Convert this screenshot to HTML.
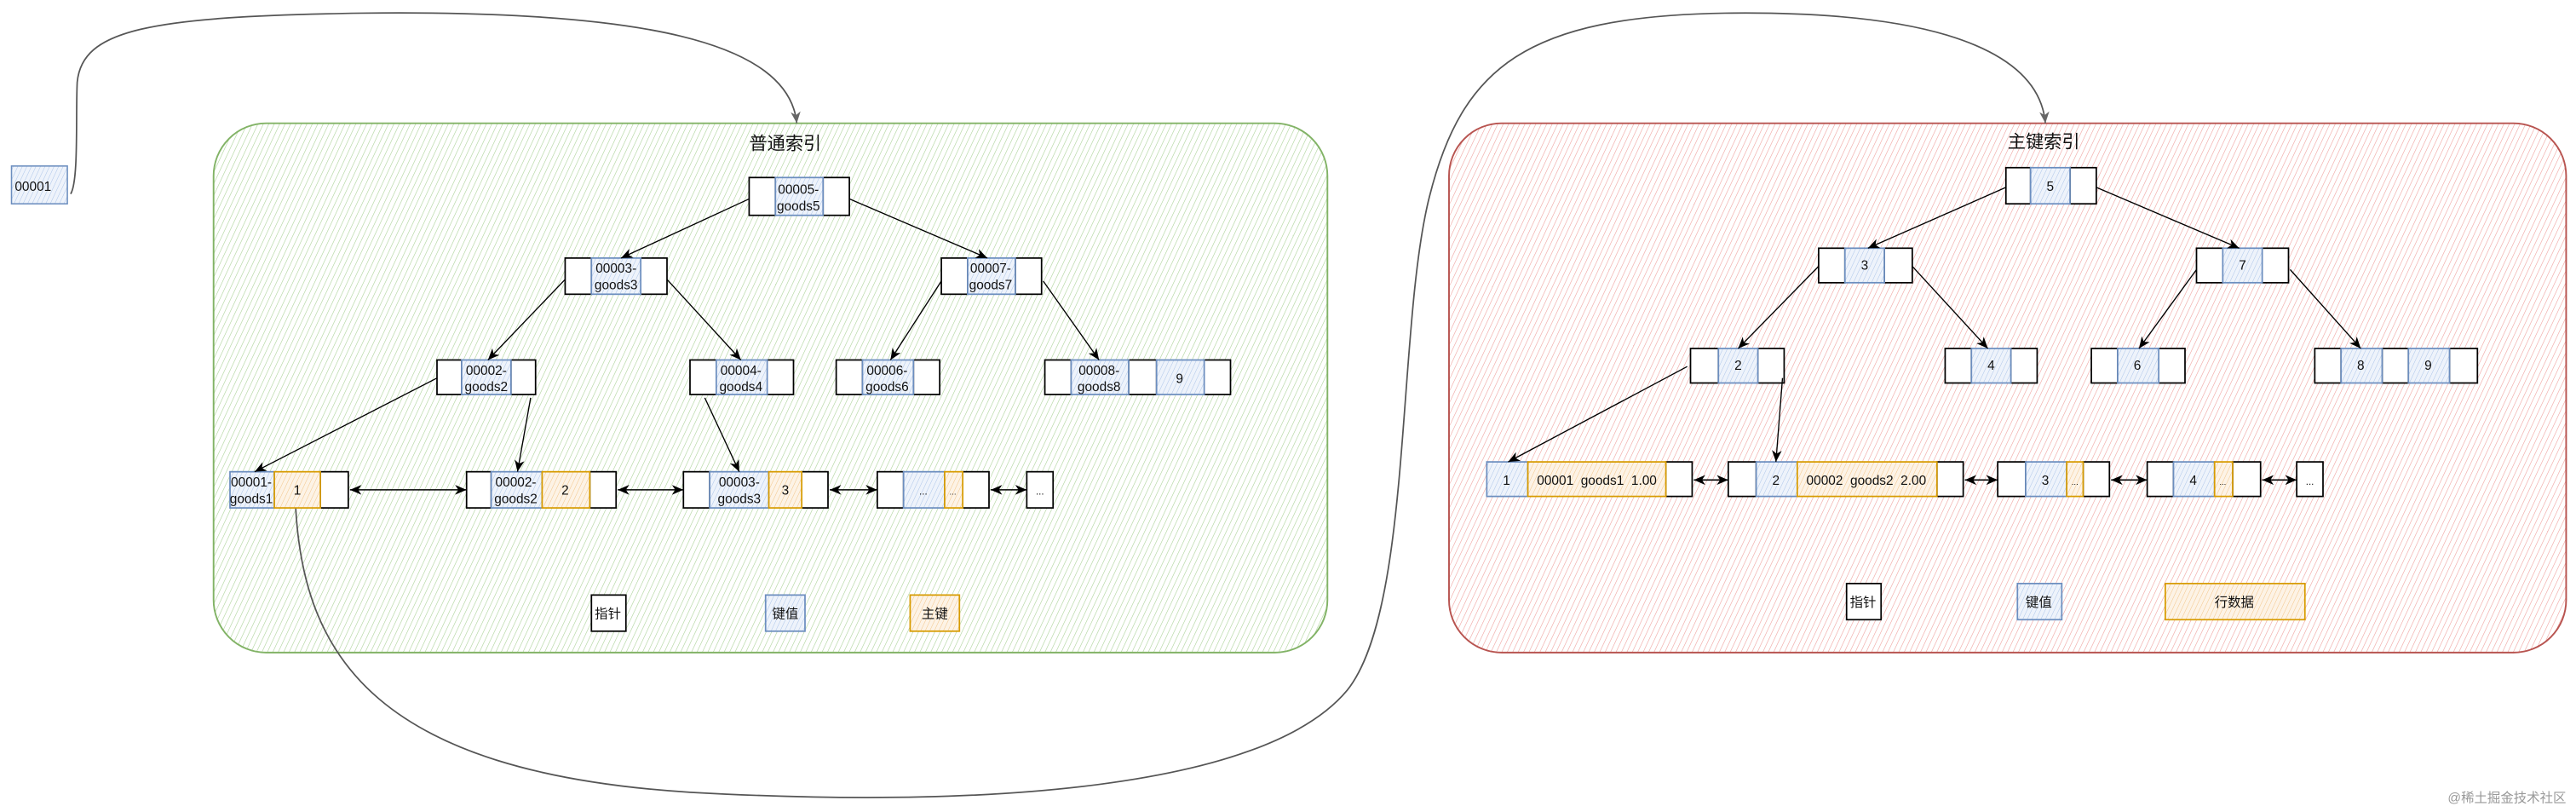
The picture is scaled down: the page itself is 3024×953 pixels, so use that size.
<!DOCTYPE html>
<html><head><meta charset="utf-8"><style>
html,body{margin:0;padding:0;background:#fff;}
svg{display:block;}
text{font-family:"Liberation Sans","Noto Sans CJK SC",sans-serif;fill:#111;}
</style></head><body>
<svg width="3024" height="953" viewBox="0 0 1568 494" preserveAspectRatio="none" xmlns="http://www.w3.org/2000/svg">
<defs>
<pattern id="pg" width="3" height="3" patternUnits="userSpaceOnUse" patternTransform="rotate(25)"><line x1="0" y1="0" x2="0" y2="3" stroke="#a9d195" stroke-width="0.6"/></pattern>
<pattern id="pr" width="3" height="3" patternUnits="userSpaceOnUse" patternTransform="rotate(25)"><line x1="0" y1="0" x2="0" y2="3" stroke="#ee9e9b" stroke-width="0.6"/></pattern>
<pattern id="pb" width="2.5" height="2.5" patternUnits="userSpaceOnUse" patternTransform="rotate(25)"><rect width="3" height="3" fill="#eef3fb"/><line x1="0" y1="0" x2="0" y2="3" stroke="#aac3e8" stroke-width="0.5"/></pattern>
<pattern id="po" width="2.5" height="2.5" patternUnits="userSpaceOnUse" patternTransform="rotate(25)"><rect width="3" height="3" fill="#fdf3e6"/><line x1="0" y1="0" x2="0" y2="3" stroke="#f2c385" stroke-width="0.5"/></pattern>
<marker id="a" markerWidth="8" markerHeight="8" refX="7" refY="4" orient="auto" markerUnits="userSpaceOnUse"><path d="M0,1 L7,4 L0,7 L2,4Z" fill="#000"/></marker>
<marker id="as" markerWidth="8" markerHeight="8" refX="1" refY="4" orient="auto" markerUnits="userSpaceOnUse"><path d="M8,1 L1,4 L8,7 L6,4Z" fill="#000"/></marker>
<marker id="ag" markerWidth="8" markerHeight="8" refX="7" refY="4" orient="auto" markerUnits="userSpaceOnUse"><path d="M0,1 L7,4 L0,7 L2,4Z" fill="#666"/></marker>
</defs>

<rect x="130" y="75" width="678" height="322" rx="32" fill="url(#pg)" stroke="#82b366" stroke-width="1"/>
<rect x="882" y="75" width="680" height="322" rx="32" fill="url(#pr)" stroke="#b85450" stroke-width="1"/>
<text x="478" y="91" font-size="11" text-anchor="middle">普通索引</text>
<text x="1244" y="90" font-size="11" text-anchor="middle">主键索引</text>

<rect x="7" y="101" width="34" height="23" fill="url(#pb)" stroke="#6c8ebf" stroke-width="0.8"/>
<text x="9" y="116" font-size="8">00001</text>

<g fill="none" stroke="#555" stroke-width="0.9">
<path d="M43,118 C48,110 46,70 47,50 C50,18 90,10 220,8 C390,6 480,25 485,75" marker-end="url(#ag)"/>
<path d="M180,309 C185,400 230,470 420,482 C600,492 770,480 820,420 C860,370 850,200 870,120 C890,40 930,10 1050,8 C1200,6 1242,40 1245,75" marker-end="url(#ag)"/>
</g>

<g stroke-width="0.9">
<g stroke="#000" fill="#fff">
<rect x="456" y="108" width="16" height="23"/><rect x="501" y="108" width="16" height="23"/>
<rect x="344" y="157" width="16" height="22"/><rect x="390" y="157" width="16" height="22"/>
<rect x="573" y="157" width="16" height="22"/><rect x="618" y="157" width="16" height="22"/>
<rect x="266" y="219" width="15" height="21"/><rect x="311" y="219" width="15" height="21"/>
<rect x="420" y="219" width="16" height="21"/><rect x="467" y="219" width="16" height="21"/>
<rect x="509" y="219" width="16" height="21"/><rect x="556" y="219" width="16" height="21"/>
<rect x="636" y="219" width="16" height="21"/><rect x="687" y="219" width="17" height="21"/><rect x="733" y="219" width="16" height="21"/>
<rect x="195" y="287" width="17" height="22"/>
<rect x="284" y="287" width="15" height="22"/><rect x="359" y="287" width="16" height="22"/>
<rect x="416" y="287" width="16" height="22"/><rect x="488" y="287" width="16" height="22"/>
<rect x="534" y="287" width="16" height="22"/><rect x="586" y="287" width="16" height="22"/>
<rect x="625" y="287" width="16" height="22"/>
<rect x="360" y="362" width="21" height="22"/>
</g>
<g stroke="#6c8ebf" fill="url(#pb)">
<rect x="472" y="108" width="29" height="23"/>
<rect x="360" y="157" width="30" height="22"/>
<rect x="589" y="157" width="29" height="22"/>
<rect x="281" y="219" width="30" height="21"/>
<rect x="436" y="219" width="31" height="21"/>
<rect x="525" y="219" width="31" height="21"/>
<rect x="652" y="219" width="35" height="21"/><rect x="704" y="219" width="29" height="21"/>
<rect x="140" y="287" width="27" height="22"/>
<rect x="299" y="287" width="31" height="22"/>
<rect x="432" y="287" width="36" height="22"/>
<rect x="550" y="287" width="25" height="22"/>
<rect x="466" y="362" width="24" height="22"/>
</g>
<g stroke="#d79b00" fill="url(#po)">
<rect x="167" y="287" width="28" height="22"/>
<rect x="330" y="287" width="29" height="22"/>
<rect x="468" y="287" width="20" height="22"/>
<rect x="575" y="287" width="11" height="22"/>
<rect x="554" y="362" width="30" height="22"/>
</g>

<g stroke="#000" fill="#fff">
<rect x="1221" y="102" width="15" height="22"/><rect x="1260" y="102" width="16" height="22"/>
<rect x="1107" y="151" width="16" height="21"/><rect x="1147" y="151" width="17" height="21"/>
<rect x="1337" y="151" width="16" height="21"/><rect x="1377" y="151" width="16" height="21"/>
<rect x="1029" y="212" width="17" height="21"/><rect x="1070" y="212" width="16" height="21"/>
<rect x="1184" y="212" width="16" height="21"/><rect x="1224" y="212" width="16" height="21"/>
<rect x="1273" y="212" width="16" height="21"/><rect x="1314" y="212" width="16" height="21"/>
<rect x="1409" y="212" width="16" height="21"/><rect x="1450" y="212" width="16" height="21"/><rect x="1491" y="212" width="17" height="21"/>
<rect x="1014" y="281" width="16" height="21"/>
<rect x="1052" y="281" width="17" height="21"/><rect x="1179" y="281" width="16" height="21"/>
<rect x="1216" y="281" width="17" height="21"/><rect x="1268" y="281" width="16" height="21"/>
<rect x="1307" y="281" width="16" height="21"/><rect x="1359" y="281" width="17" height="21"/>
<rect x="1398" y="281" width="16" height="21"/>
<rect x="1124" y="355" width="21" height="22"/>
</g>
<g stroke="#6c8ebf" fill="url(#pb)">
<rect x="1236" y="102" width="24" height="22"/>
<rect x="1123" y="151" width="24" height="21"/>
<rect x="1353" y="151" width="24" height="21"/>
<rect x="1046" y="212" width="24" height="21"/>
<rect x="1200" y="212" width="24" height="21"/>
<rect x="1289" y="212" width="25" height="21"/>
<rect x="1425" y="212" width="25" height="21"/><rect x="1466" y="212" width="25" height="21"/>
<rect x="905" y="281" width="25" height="21"/>
<rect x="1069" y="281" width="25" height="21"/>
<rect x="1233" y="281" width="25" height="21"/>
<rect x="1323" y="281" width="25" height="21"/>
<rect x="1228" y="355" width="27" height="22"/>
</g>
<g stroke="#d79b00" fill="url(#po)">
<rect x="930" y="281" width="84" height="21"/>
<rect x="1094" y="281" width="85" height="21"/>
<rect x="1258" y="281" width="10" height="21"/>
<rect x="1348" y="281" width="11" height="21"/>
<rect x="1318" y="355" width="85" height="22"/>
</g>

<g stroke="#000" stroke-width="0.7" fill="none" marker-end="url(#a)">
<line x1="456" y1="121" x2="378" y2="157"/>
<line x1="517" y1="121" x2="601" y2="157"/>
<line x1="344" y1="170" x2="297" y2="219"/>
<line x1="406" y1="170" x2="451" y2="219"/>
<line x1="573" y1="171" x2="542" y2="219"/>
<line x1="635" y1="171" x2="669" y2="219"/>
<line x1="266" y1="230" x2="155" y2="287"/>
<line x1="323" y1="242" x2="315" y2="287"/>
<line x1="429" y1="242" x2="450" y2="287"/>
<line x1="1221" y1="114" x2="1137" y2="151"/>
<line x1="1276" y1="114" x2="1363" y2="151"/>
<line x1="1107" y1="162" x2="1058" y2="212"/>
<line x1="1164" y1="162" x2="1210" y2="212"/>
<line x1="1337" y1="164" x2="1302" y2="212"/>
<line x1="1394" y1="164" x2="1437" y2="212"/>
<line x1="1027" y1="223" x2="918" y2="281"/>
<line x1="1085" y1="230" x2="1081" y2="281"/>
</g>
<g stroke="#000" stroke-width="0.8" fill="none" marker-end="url(#a)" marker-start="url(#as)">
<line x1="213" y1="298" x2="284" y2="298"/>
<line x1="376" y1="298" x2="416" y2="298"/>
<line x1="505" y1="298" x2="534" y2="298"/>
<line x1="603" y1="298" x2="625" y2="298"/>
<line x1="1031" y1="292" x2="1052" y2="292"/>
<line x1="1196" y1="292" x2="1216" y2="292"/>
<line x1="1285" y1="292" x2="1307" y2="292"/>
<line x1="1377" y1="292" x2="1398" y2="292"/>
</g>
</g>

<g font-size="8" text-anchor="middle">
<text x="486" y="118">00005-</text><text x="486" y="128">goods5</text>
<text x="375" y="166">00003-</text><text x="375" y="176">goods3</text>
<text x="603" y="166">00007-</text><text x="603" y="176">goods7</text>
<text x="296" y="228">00002-</text><text x="296" y="238">goods2</text>
<text x="451" y="228">00004-</text><text x="451" y="238">goods4</text>
<text x="540" y="228">00006-</text><text x="540" y="238">goods6</text>
<text x="669" y="228">00008-</text><text x="669" y="238">goods8</text>
<text x="718" y="233">9</text>
<text x="153" y="296">00001-</text><text x="153" y="306">goods1</text>
<text x="181" y="301">1</text>
<text x="314" y="296">00002-</text><text x="314" y="306">goods2</text>
<text x="344" y="301">2</text>
<text x="450" y="296">00003-</text><text x="450" y="306">goods3</text>
<text x="478" y="301">3</text>
<text x="562" y="301" font-size="6">...</text>
<text x="580" y="301" font-size="5">...</text>
<text x="633" y="301" font-size="6">...</text>
<text x="370" y="376">指针</text>
<text x="478" y="376">键值</text>
<text x="569" y="376">主键</text>
</g>
<g font-size="8" text-anchor="middle">
<text x="1248" y="116">5</text>
<text x="1135" y="164">3</text>
<text x="1365" y="164">7</text>
<text x="1058" y="225">2</text>
<text x="1212" y="225">4</text>
<text x="1301" y="225">6</text>
<text x="1437" y="225">8</text>
<text x="1478" y="225">9</text>
<text x="917" y="295">1</text>
<text x="972" y="295" xml:space="preserve" style="white-space:pre">00001  goods1  1.00</text>
<text x="1081" y="295">2</text>
<text x="1136" y="295" xml:space="preserve" style="white-space:pre">00002  goods2  2.00</text>
<text x="1245" y="295">3</text>
<text x="1263" y="295" font-size="5">...</text>
<text x="1335" y="295">4</text>
<text x="1353" y="295" font-size="5">...</text>
<text x="1406" y="295" font-size="6">...</text>
<text x="1134" y="369">指针</text>
<text x="1241" y="369">键值</text>
<text x="1360" y="369">行数据</text>
</g>
<text x="1562" y="488" font-size="8" text-anchor="end" style="fill:#999">@稀土掘金技术社区</text>
</svg>
</body></html>
